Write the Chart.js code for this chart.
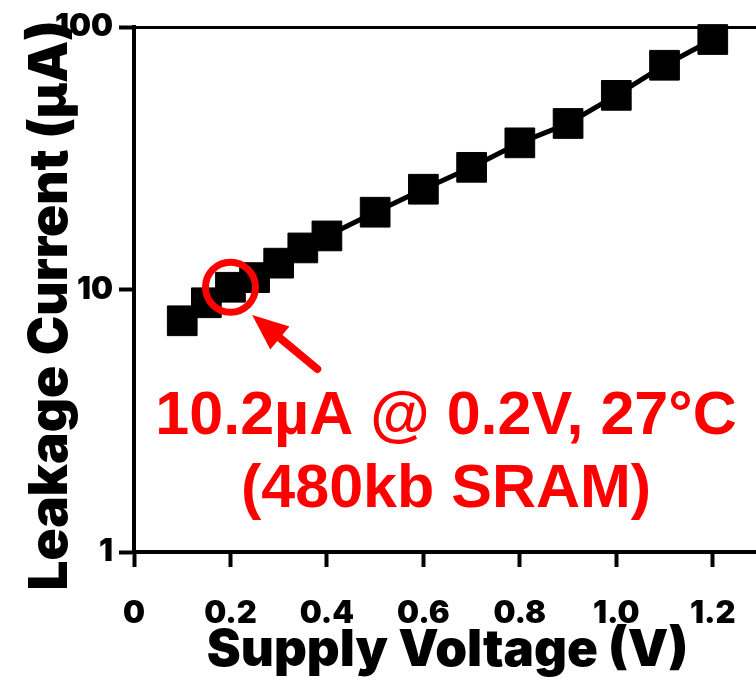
<!DOCTYPE html>
<html>
<head>
<meta charset="utf-8">
<script src="https://cdn.jsdelivr.net/npm/chart.js@4.4.1/dist/chart.umd.min.js"></script>
<style>
  html, body { margin: 0; padding: 0; background: #fff; overflow: hidden; }
  canvas { display: block; }
</style>
</head>
<body>
<canvas id="chart" width="770" height="689"></canvas>
<script>
/* data */
var VOLTAGE = [0.1, 0.15, 0.2, 0.25, 0.3, 0.35, 0.4, 0.5, 0.6, 0.7, 0.8, 0.9, 1.0, 1.1, 1.2];
var LEAKAGE = [7.6, 8.9, 10.2, 11.1, 12.6, 14.4, 16.0, 19.7, 24.1, 29.2, 36.2, 42.9, 54.9, 71.5, 89.6];
var X_TICKS = [0, 0.2, 0.4, 0.6, 0.8, 1.0, 1.2];
var Y_TICKS = [1, 10, 100];

/* callout */
var NOTE_POINT = { x: 0.2, y: 10.2 };
var NOTE_ARROW = { from: { x: 0.38, y: 4.98 }, to: { x: 0.245, y: 8.0 } };
var NOTE_LINES = ['10.2\u00b5A @ 0.2V, 27\u00b0C', '(480kb SRAM)'];
var NOTE_ANCHOR = [{ x: 0.647, y: 2.81 }, { x: 0.647, y: 1.48 }];

var AXIS_FONT = "Inter, 'Liberation Sans', Arial, sans-serif";
var NOTE_FONT = "'Liberation Sans', Arial, sans-serif";
var RED = '#ff0000';

var callout = {
    id: 'callout',
    afterDatasetsDraw: function (chart) {
        var ctx = chart.ctx;
        var xs = chart.scales.x, ys = chart.scales.y;
        ctx.save();

        // circle round the 0.2 V point
        ctx.strokeStyle = RED;
        ctx.lineWidth = 7;
        ctx.beginPath();
        ctx.arc(xs.getPixelForValue(NOTE_POINT.x), ys.getPixelForValue(NOTE_POINT.y), 25, 0, Math.PI * 2);
        ctx.stroke();

        // arrow
        var x0 = xs.getPixelForValue(NOTE_ARROW.from.x), y0 = ys.getPixelForValue(NOTE_ARROW.from.y);
        var x1 = xs.getPixelForValue(NOTE_ARROW.to.x),   y1 = ys.getPixelForValue(NOTE_ARROW.to.y);
        var ang = Math.atan2(y1 - y0, x1 - x0);
        var head = 36, half = 15;
        var bx = x1 - head * Math.cos(ang), by = y1 - head * Math.sin(ang);
        ctx.lineCap = 'round';
        ctx.lineWidth = 8;
        ctx.beginPath();
        ctx.moveTo(x0, y0);
        ctx.lineTo(bx + 4 * Math.cos(ang), by + 4 * Math.sin(ang));
        ctx.stroke();
        ctx.fillStyle = RED;
        ctx.beginPath();
        ctx.moveTo(x1, y1);
        ctx.lineTo(bx + half * Math.sin(ang), by - half * Math.cos(ang));
        ctx.lineTo(bx - half * Math.sin(ang), by + half * Math.cos(ang));
        ctx.closePath();
        ctx.fill();

        // text
        ctx.font = 'bold 61px ' + NOTE_FONT;
        ctx.textAlign = 'center';
        ctx.textBaseline = 'alphabetic';
        NOTE_LINES.forEach(function (t, i) {
            ctx.fillText(t, xs.getPixelForValue(NOTE_ANCHOR[i].x), ys.getPixelForValue(NOTE_ANCHOR[i].y));
        });
        ctx.restore();
    }
};

new Chart(document.getElementById('chart').getContext('2d'), {
    type: 'line',
    data: {
        datasets: [{
            data: VOLTAGE.map(function (v, i) { return { x: v, y: LEAKAGE[i] }; }),
            borderColor: '#000',
            backgroundColor: '#000',
            borderWidth: 5,
            pointStyle: 'rect',
            pointRadius: 21,
            pointBorderWidth: 1,
            pointBackgroundColor: '#000',
            pointBorderColor: '#000',
            tension: 0,
            clip: false
        }]
    },
    options: {
        responsive: false,
        animation: false,
        events: [],
        layout: { autoPadding: false, padding: { top: 27, right: 9, left: 0, bottom: 0 } },
        plugins: { legend: { display: false }, tooltip: { enabled: false } },
        scales: {
            x: {
                type: 'linear',
                min: 0,
                max: 1.3,
                afterBuildTicks: function (s) { s.ticks = X_TICKS.map(function (v) { return { value: v }; }); },
                afterFit: function (s) { s.height = 137; s.paddingLeft = 0; s.paddingRight = 0; },
                ticks: {
                    color: '#000',
                    padding: 28,
                    maxRotation: 0,
                    autoSkip: false,
                    font: { family: AXIS_FONT, size: 31, weight: '900' },
                    callback: function (v) { return v === 0 ? '0' : v.toFixed(1); }
                },
                grid: { drawOnChartArea: false, tickLength: 15, tickWidth: 4, tickColor: '#000' },
                border: { color: '#000', width: 4 },
                title: {
                    display: true,
                    text: 'Supply Voltage (V)',
                    color: '#000',
                    font: { family: AXIS_FONT, size: 51, weight: '900' },
                    padding: { top: 0, bottom: 8 }
                }
            },
            y: {
                type: 'logarithmic',
                min: 1,
                max: 100,
                afterBuildTicks: function (s) { s.ticks = Y_TICKS.map(function (v) { return { value: v, major: true }; }); },
                afterFit: function (s) { s.width = 134; s.paddingTop = 0; s.paddingBottom = 0; },
                ticks: {
                    color: '#000',
                    padding: 6,
                    autoSkip: false,
                    font: { family: AXIS_FONT, size: 31, weight: '900' },
                    callback: function (v) { return String(v); }
                },
                grid: {
                    tickLength: 15,
                    tickWidth: 4,
                    tickColor: '#000',
                    lineWidth: 3,
                    color: function (c) { return c.tick && c.tick.value === 100 ? '#000' : 'rgba(0,0,0,0)'; }
                },
                border: { color: '#000', width: 4 },
                title: {
                    display: true,
                    // trailing spaces nudge the label toward the bottom like the original
                    text: 'Leakage Current (\u00b5A)   ',
                    color: '#000',
                    font: { family: AXIS_FONT, size: 53, weight: '900' },
                    padding: { top: 19, bottom: 0 }
                }
            }
        }
    },
    plugins: [callout]
});
</script>
</body>
</html>
